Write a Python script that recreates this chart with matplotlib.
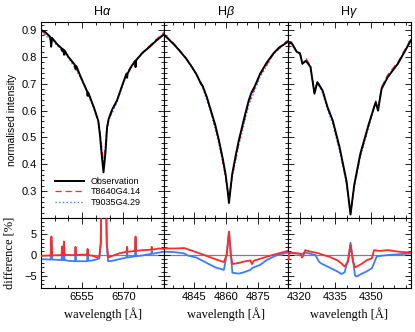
import matplotlib
matplotlib.use("Agg")
import matplotlib.pyplot as plt
from matplotlib.ticker import MultipleLocator

# ---- H alpha ----
ha_obs_wl = [6540.0, 6541.5, 6543.4, 6543.7, 6544.0, 6546.0, 6547.5, 6547.7, 6547.9, 6548.2, 6548.4, 6548.6,
             6550.0, 6552.3, 6552.6, 6552.9, 6554.5, 6556.8, 6557.0, 6557.2, 6559.3, 6560.9, 6561.5, 6562.1,
             6562.8, 6563.5, 6564.1, 6564.7, 6566.0, 6567.7, 6569.5, 6571.2, 6571.4, 6571.6, 6573.0, 6574.3,
             6574.5, 6574.7, 6577.0, 6579.7, 6582.0, 6585.0]
ha_obs = [0.900, 0.893, 0.874, 0.838, 0.871, 0.846, 0.832, 0.822, 0.830, 0.826, 0.808, 0.824,
          0.800, 0.771, 0.755, 0.766, 0.725, 0.672, 0.655, 0.668, 0.612, 0.562, 0.510, 0.440,
          0.370, 0.440, 0.537, 0.570, 0.605, 0.637, 0.690, 0.738, 0.722, 0.738, 0.765, 0.785,
          0.762, 0.787, 0.815, 0.838, 0.860, 0.885]
ha_mod_wl = [6540.0, 6546.0, 6550.0, 6554.5, 6557.0, 6559.3, 6560.9, 6561.6, 6562.2, 6562.8, 6563.4, 6564.0,
             6564.7, 6567.7, 6571.3, 6574.9, 6579.7, 6585.0]
ha_red = [0.898, 0.847, 0.802, 0.727, 0.670, 0.612, 0.560, 0.515, 0.458, 0.402, 0.458, 0.530,
          0.567, 0.636, 0.742, 0.793, 0.843, 0.893]
ha_blue = [0.894, 0.842, 0.797, 0.722, 0.665, 0.607, 0.557, 0.512, 0.457, 0.405, 0.457, 0.527,
           0.562, 0.631, 0.737, 0.790, 0.841, 0.891]
ha_diff_wl = [6540.0, 6543.5, 6543.8, 6544.1, 6547.5, 6547.7, 6547.9, 6548.2, 6548.4, 6548.6, 6550.0, 6552.4,
              6552.6, 6552.8, 6555.0, 6556.8, 6557.0, 6557.2, 6559.0, 6560.5, 6561.3, 6561.8, 6562.1, 6563.7,
              6564.0, 6564.5, 6566.0, 6568.5, 6571.2, 6571.4, 6571.6, 6574.3, 6574.5, 6574.7, 6577.0, 6580.2,
              6580.4, 6580.6, 6583.0, 6585.0]
ha_diff_red = [-0.2, -0.1, 4.5, -0.1, 0.0, 2.1, 0.0, 0.0, 3.3, 0.0, 0.0, 0.0,
               2.0, 0.0, 0.1, 0.1, 1.5, 0.0, -0.2, -0.6, -0.2, 3.0, 15.0, 15.0,
               3.0, -0.6, -0.2, 0.4, 0.8, 2.0, 0.8, 1.0, 4.5, 1.0, 1.2, 1.3,
               2.0, 1.3, 1.6, 1.5]
ha_diff_blue = [-1.0, -1.1, 3.5, -1.1, -1.2, 1.0, -1.2, -1.2, 2.3, -1.2, -1.4, -1.5,
                1.0, -1.5, -1.5, -1.5, 0.5, -1.4, -1.3, -1.0, -0.8, 2.5, 15.0, 15.0,
                2.5, -1.5, -1.4, -1.0, -0.6, 0.8, -0.6, -0.3, 3.5, -0.3, -0.1, 0.3,
                1.0, 0.3, 0.6, 0.8]

# ---- H beta ----
hb_obs_wl = [4831.0, 4833.0, 4835.8, 4838.5, 4841.2, 4843.5, 4845.9, 4847.5, 4848.2, 4849.0, 4851.0, 4852.9,
             4855.0, 4856.7, 4858.5, 4859.8, 4860.8, 4861.4, 4862.0, 4862.9, 4864.5, 4866.0, 4868.5, 4870.7,
             4872.0, 4873.5, 4876.1, 4879.0, 4882.3, 4885.0, 4887.0, 4889.0]
hb_obs = [0.881, 0.866, 0.844, 0.820, 0.794, 0.768, 0.738, 0.712, 0.700, 0.692, 0.650, 0.600,
          0.545, 0.488, 0.420, 0.363, 0.300, 0.256, 0.300, 0.363, 0.430, 0.488, 0.570, 0.638,
          0.668, 0.690, 0.738, 0.777, 0.813, 0.835, 0.845, 0.856]
hb_mod_wl = [4831.0, 4835.8, 4841.2, 4845.9, 4849.0, 4852.9, 4856.7, 4859.8, 4861.4, 4862.9, 4866.0, 4870.7,
             4876.1, 4882.3, 4889.0]
hb_red = [0.884, 0.847, 0.797, 0.740, 0.693, 0.600, 0.484, 0.356, 0.270, 0.356, 0.478, 0.630,
          0.732, 0.810, 0.862]
hb_blue = [0.882, 0.845, 0.794, 0.736, 0.687, 0.592, 0.476, 0.352, 0.270, 0.350, 0.470, 0.620,
           0.726, 0.810, 0.860]
hb_diff_wl = [4831.0, 4836.0, 4840.4, 4842.0, 4846.0, 4849.8, 4855.0, 4859.0, 4860.3, 4861.4, 4862.3, 4863.0,
              4866.0, 4868.3, 4871.5, 4872.2, 4873.0, 4876.0, 4879.2, 4884.0, 4889.0]
hb_diff_red = [1.6, 1.6, 1.7, 1.4, 0.7, 0.0, -1.0, -1.7, 0.0, 5.7, 0.0, -2.2,
               -1.9, -1.6, -1.3, -2.2, -1.4, -0.9, -0.4, 0.3, 1.0]
hb_diff_blue = [0.8, 0.7, 0.4, -0.1, -0.6, -1.6, -3.0, -3.6, 0.0, 5.7, 0.0, -4.3,
                -4.5, -4.2, -3.6, -3.2, -3.0, -2.4, -1.2, 0.0, 0.6]

# ---- H gamma ----
hg_obs_wl = [4315.0, 4315.4, 4316.6, 4318.8, 4320.2, 4321.2, 4322.7, 4324.6, 4326.3, 4327.5, 4329.7, 4331.8,
             4334.0, 4336.9, 4339.8, 4341.5, 4343.1, 4345.6, 4349.2, 4352.1, 4353.1, 4354.6, 4357.2, 4361.5,
             4367.0]
hg_obs = [0.795, 0.850, 0.852, 0.819, 0.813, 0.775, 0.785, 0.763, 0.663, 0.706, 0.675, 0.613,
          0.563, 0.463, 0.338, 0.213, 0.325, 0.438, 0.550, 0.631, 0.600, 0.681, 0.725, 0.775,
          0.862]
hg_mod_wl = [4315.0, 4315.4, 4316.6, 4318.8, 4320.2, 4321.2, 4322.7, 4324.6, 4326.3, 4327.5, 4329.7, 4331.8,
             4334.0, 4336.9, 4339.8, 4341.5, 4343.1, 4345.6, 4349.2, 4352.1, 4353.1, 4354.6, 4357.2, 4361.5,
             4367.0]
hg_red = [0.800, 0.852, 0.856, 0.822, 0.815, 0.772, 0.794, 0.768, 0.667, 0.710, 0.677, 0.612,
          0.560, 0.455, 0.330, 0.218, 0.317, 0.430, 0.545, 0.637, 0.607, 0.688, 0.734, 0.781,
          0.867]
hg_blue = [0.800, 0.852, 0.855, 0.821, 0.814, 0.776, 0.790, 0.766, 0.663, 0.702, 0.667, 0.602,
           0.550, 0.450, 0.328, 0.219, 0.316, 0.426, 0.538, 0.630, 0.602, 0.684, 0.728, 0.778,
           0.865]
hg_diff_wl = [4315.0, 4315.3, 4315.7, 4318.0, 4320.5, 4321.0, 4321.7, 4322.4, 4324.0, 4326.7, 4328.2, 4329.0,
              4332.5, 4336.0, 4337.6, 4339.0, 4340.5, 4341.5, 4342.5, 4343.4, 4344.1, 4346.0, 4348.5, 4350.5,
              4351.4, 4352.5, 4354.0, 4357.2, 4362.0, 4367.0]
hg_diff_red = [0.6, -1.2, 0.6, 0.5, 0.3, -0.6, 0.0, 1.2, 0.9, 0.6, 0.4, 0.2,
               -0.4, -1.3, -2.0, -2.8, -1.5, 2.5, -1.5, -3.0, -2.8, -2.2, -1.2, -0.8,
               1.2, 1.1, 1.0, 1.2, 0.8, 0.6]
hg_diff_blue = [0.6, 0.4, 0.5, 0.4, 0.3, 0.3, 0.5, 0.6, 0.4, 0.0, -1.6, -2.0,
                -3.0, -4.0, -4.6, -4.2, -1.0, 3.0, -1.0, -5.0, -5.2, -4.6, -3.9, -3.2,
                -2.0, -0.4, -0.2, 0.0, 0.2, 0.4]

titles = [r'H$\alpha$', r'H$\beta$', r'H$\gamma$']
xlims = [(6540, 6585), (4831, 4889), (4315, 4367)]
xticks = [[6555, 6570], [4845, 4860, 4875], [4320, 4335, 4350]]

obs_wl = [ha_obs_wl, hb_obs_wl, hg_obs_wl]
obs = [ha_obs, hb_obs, hg_obs]
mod_wl = [ha_mod_wl, hb_mod_wl, hg_mod_wl]
red = [ha_red, hb_red, hg_red]
blue = [ha_blue, hb_blue, hg_blue]
diff_wl = [ha_diff_wl, hb_diff_wl, hg_diff_wl]
diff_red = [ha_diff_red, hb_diff_red, hg_diff_red]
diff_blue = [ha_diff_blue, hb_diff_blue, hg_diff_blue]

RED = '#ff2a2a'
BLUE = '#3c7cff'
SERIF = 'Liberation Serif'
SANS = 'Liberation Sans'

plt.rcParams['font.family'] = SANS
plt.rcParams['mathtext.fontset'] = 'custom'
plt.rcParams['mathtext.it'] = 'Liberation Sans:italic'
plt.rcParams['mathtext.rm'] = 'Liberation Sans'

fig, axes = plt.subplots(2, 3, figsize=(4.15, 3.32), dpi=100,
                         gridspec_kw={'height_ratios': [196, 70]})
fig.subplots_adjust(left=41 / 415, right=411 / 415, top=1 - 22 / 332, bottom=1 - 288 / 332,
                    wspace=0, hspace=0)

for i in range(3):
    top = axes[0, i]
    bot = axes[1, i]

    # upper panel: profiles
    top.plot(mod_wl[i], blue[i], color=BLUE, ls=':', lw=1.0, label='T9035G4.29', zorder=2)
    top.plot(mod_wl[i], red[i], color=RED, ls=(0, (5, 3)), lw=0.9, label='T8640G4.14', zorder=3)
    top.plot(obs_wl[i], obs[i], color='black', lw=1.4, label='Observation', zorder=4)
    top.set_xlim(xlims[i])
    top.set_ylim(0.2, 0.93)
    top.yaxis.set_major_locator(MultipleLocator(0.1))
    top.yaxis.set_minor_locator(MultipleLocator(0.02))
    top.set_title(titles[i], fontsize=9, pad=5)

    # lower panel: differences
    bot.axhline(0, color='#808080', lw=0.9, zorder=1)
    bot.plot(diff_wl[i], diff_blue[i], color=BLUE, lw=1.3, zorder=2)
    bot.plot(diff_wl[i], diff_red[i], color=RED, lw=1.3, zorder=3)
    bot.set_xlim(xlims[i])
    bot.set_ylim(-8, 9)
    bot.yaxis.set_major_locator(MultipleLocator(5))
    bot.yaxis.set_minor_locator(MultipleLocator(1))
    bot.set_xticks(xticks[i])
    bot.set_xlabel('wavelength [Å]', family=SERIF, fontsize=9, labelpad=4)

    for ax in (top, bot):
        ax.xaxis.set_minor_locator(MultipleLocator(5))
        ax.tick_params(which='both', direction='in', top=True, right=True, width=0.6)
        ax.tick_params(which='major', length=4, labelsize=8, pad=3)
        ax.tick_params(which='minor', length=2)
        for s in ax.spines.values():
            s.set_linewidth(0.8)
    top.set_xticks(xticks[i])
    top.tick_params(labelbottom=False)
    if i > 0:
        top.tick_params(labelleft=False)
        bot.tick_params(labelleft=False)

axes[0, 0].set_ylabel('normalised intensity', fontsize=7.5, labelpad=3)
axes[1, 0].set_ylabel('difference [%]', family=SERIF, fontsize=9, labelpad=6)
axes[0, 0].set_yticks([0.3, 0.4, 0.5, 0.6, 0.7, 0.8, 0.9])

h, l = axes[0, 0].get_legend_handles_labels()
axes[0, 0].legend(h[::-1], l[::-1], loc='lower left', bbox_to_anchor=(0.06, 0.025), frameon=False,
                  fontsize=6.5, handlelength=3.2, handletextpad=0.8, labelspacing=0.15,
                  borderpad=0.2)

fig.savefig('out.png', dpi=100)
